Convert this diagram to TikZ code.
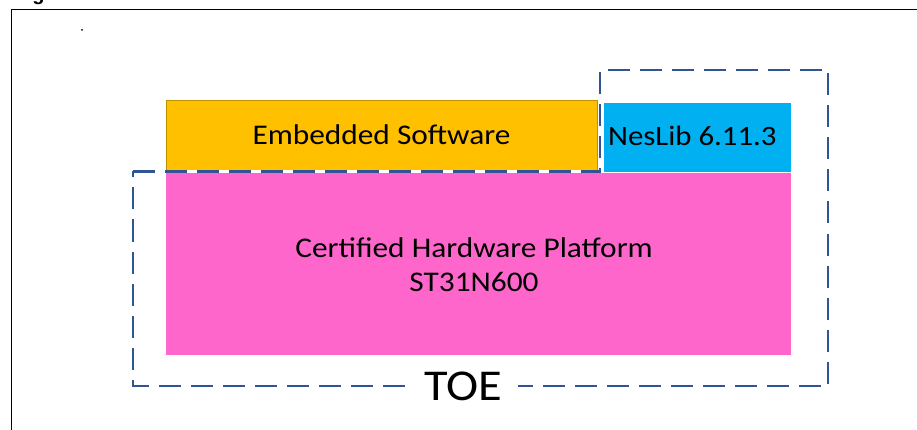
\documentclass[tikz,border=0pt]{standalone}
\usepackage{fontspec}
\setmainfont[FakeStretch=1.1]{Carlito}
\newfontfamily\figfont{Liberation Sans}
\definecolor{swfill}{HTML}{FFC000}
\definecolor{swdraw}{HTML}{BF9000}
\definecolor{libfill}{HTML}{00B0F0}
\definecolor{hwfill}{HTML}{FF66CC}
\definecolor{toeblue}{HTML}{2F5597}
\begin{document}
\begin{tikzpicture}[x=1pt,y=-1pt,
  box/.style={anchor=north west, inner sep=0pt, outer sep=0pt, text=black},
  toeline/.style={draw=toeblue, line width=2.6pt, dash pattern=on 22pt off 10pt},
  frameline/.style={draw=black, line width=1.6pt}]
\useasboundingbox[fill=white] (0,0) rectangle (917,430);
% figure frame and caption remnant
\node[anchor=base, inner sep=0pt, font=\figfont\bfseries\fontsize{20}{20}\selectfont] (fig) at (38.5,0.8) {g};
\draw[frameline] (11.5,430) -- (11.5,9.5) -- (917,9.5);
\fill[black] (82,30) circle (1pt);
% blocks
\node[box, fill=hwfill, minimum width=625pt, minimum height=182pt] (hw) at (166,173) {};
\node[text=black, align=center, font=\fontsize{28.5}{34}\selectfont] (hwtext) at (474,265) {Certified Hardware Platform\\ST31N600};
\node[box, fill=swfill, draw=swdraw, line width=0.8pt, minimum width=431pt, minimum height=70pt, font=\fontsize{28.5}{30}\selectfont] (sw) at (166,100) {Embedded Software};
\node[box, fill=libfill, minimum width=187pt, minimum height=69pt] (lib) at (604,103) {};
\node[text=black, anchor=west, inner sep=0pt, font=\fontsize{28}{30}\selectfont] (libtext) at (608,136) {NesLib 6.11.3};
% TOE outline
\draw[white, line width=2.6pt] (sw.south west) ++(0,1.5) -- ++(431,0);
\coordinate (c1) at (133,171.5);
\coordinate (c2) at (600,171.5);
\coordinate (c3) at (600,70);
\coordinate (c4) at (828,70);
\coordinate (c5) at (828,386);
\coordinate (c6) at (133,386);
\draw[toeline] (c1) -- (c2) -- (c3) -- (c4) -- (c5) -- (c6) -- cycle;
\node[fill=white, text=black, inner xsep=16pt, inner ysep=2pt, font=\fontsize{44}{44}\selectfont] (toe) at (463,386) {TOE};
\end{tikzpicture}
\end{document}
